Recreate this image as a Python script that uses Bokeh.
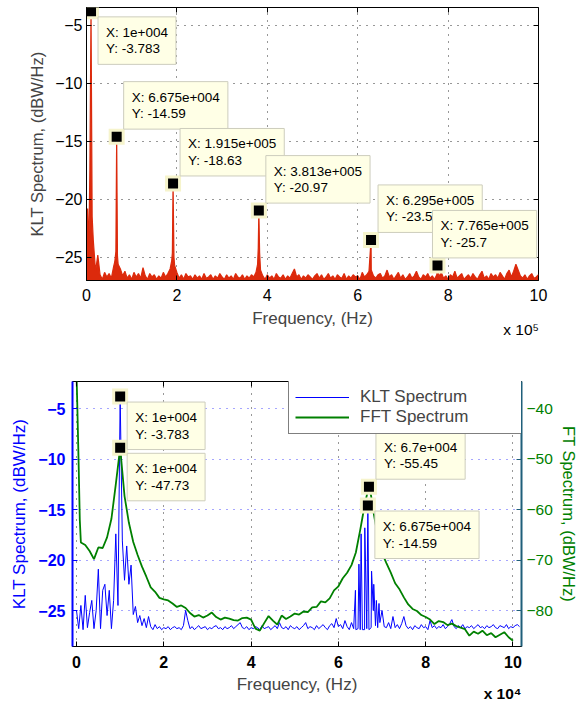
import numpy as np
from bokeh.plotting import figure
from bokeh.models import (Range1d, LinearAxis, Label, Legend, LegendItem, Title,
                          CustomJSTickFormatter)
from bokeh.layouts import column
from bokeh.embed import file_html
from bokeh.resources import INLINE

FONT = "Liberation Sans"
RED = "#dc2a0c"
BLUE = "#0000ff"
GREEN = "#008000"
TEAL = "#1f5f7a"

# ---------------- data: top panel (KLT spectrum, full band) ----------------
top_step_hz = 5000
klt_top_floor = [
    -23.3, -24.5, -3.783, -23.5, -26.2, -24.8, -26.5, -26.9, -26.3, -26.7,
    -26.4, -26.8, -25.8, -24.5, -25.6, -26.0, -26.6, -26.2, -26.8, -26.5,
    -26.9, -26.3, -26.7, -26.4, -26.8, -25.9, -26.6, -26.9, -26.4, -26.7,
    -26.5, -26.9, -26.6, -26.8, -26.3, -26.7, -26.4, -26.0, -24.6, -25.7,
    -26.3, -26.8, -26.5, -26.9, -26.4, -26.7, -26.6, -26.9, -26.5, -26.8,
    -26.6, -26.9, -26.4, -26.8, -26.7, -26.5, -26.9, -26.6, -26.8, -26.4,
    -26.7, -26.9, -26.5, -26.8, -26.6, -26.9, -26.4, -26.7, -26.8, -26.5,
    -26.9, -26.6, -26.8, -26.5, -26.7, -26.3, -24.2, -26.1, -26.6, -26.9,
    -26.5, -26.8, -26.6, -26.9, -26.4, -26.7, -26.8, -26.5, -26.9, -26.6,
    -26.8, -26.4, -26.0, -26.7, -26.5, -26.9, -26.6, -26.8, -26.5, -26.7,
    -26.9, -26.6, -26.4, -26.8, -26.5, -26.9, -26.7, -26.4, -26.8, -26.6,
    -26.9, -26.5, -26.7, -26.8, -26.4, -26.9, -26.6, -26.8, -26.5, -26.7,
    -26.6, -26.9, -26.3, -26.7, -26.5, -26.2, -26.1, -26.6, -26.8, -26.5,
    -26.4, -26.8, -26.6, -26.1, -26.7, -26.5, -26.9, -26.6, -26.3, -26.8,
    -26.5, -26.9, -26.7, -26.4, -26.8, -26.6, -26.2, -26.7, -26.9, -26.5,
    -26.7, -26.4, -26.8, -26.6, -26.9, -26.5, -26.7, -26.3, -26.8, -26.6,
    -26.9, -26.5, -26.7, -26.2, -26.8, -26.6, -26.4, -26.9, -26.7, -26.5,
    -26.8, -26.4, -26.7, -26.9, -26.5, -26.2, -26.8, -26.6, -26.9, -26.4,
    -26.7, -26.5, -26.8, -26.3, -26.6, -26.9, -26.4, -26.1, -26.7, -26.2,
    -25.6, -26.1, -26.6, -26.8, -26.5, -26.9, -26.6, -26.4, -26.8, -26.7,
    -26.5,
]
klt_top_extra_hz = [2500, 7500, 12500, 62500, 66750, 68500, 188500, 191500,
                    193500, 378500, 381300, 383000, 629500, 776500, 947500]
klt_top_extra_db = [-20.8, -17.4, -21.5, -25.4, -14.59, -24.9, -25.3, -18.63,
                    -25.0, -25.6, -20.97, -24.6, -23.5, -25.7, -25.9]

top_marks_hz = [1e4, 6.675e4, 1.915e5, 3.813e5, 6.295e5, 7.765e5]
top_marks_db = [-3.783, -14.59, -18.63, -20.97, -23.5, -25.7]

top_xticks = [0, 2e5, 4e5, 6e5, 8e5, 1e6]
top_yticks = [-25, -20, -15, -10, -5]

# ---------------- data: bottom panel (zoom 0..100 kHz) ----------------
zoom_step_hz = 500
klt_zoom = [
    -25.0, -26.8, -24.5, -26.9, -23.5, -26.7, -25.2, -24.0, -26.8, -25.0,
    -20.9, -26.8, -23.0, -22.4, -25.5, -23.0, -26.8, -24.0, -17.4, -24.5,
    -3.783, -18.1, -22.0, -18.6, -22.4, -20.5, -25.4, -24.6, -26.2, -25.5,
    -26.5, -25.8, -26.7, -25.6, -26.6, -26.9, -26.4, -26.8, -26.6, -26.9,
    -26.7, -26.8, -26.6, -26.9, -26.7, -26.6, -26.8, -26.7, -26.9, -26.5,
    -25.0, -26.0, -26.8, -26.6, -26.9, -26.7, -26.5, -26.8, -26.7, -26.6,
    -26.9, -26.7, -26.8, -26.6, -26.5, -26.8, -26.7, -26.9, -26.6, -26.8,
    -26.7, -26.5, -26.8, -26.6, -26.4, -26.2, -26.7, -26.8, -26.6, -26.9,
    -26.7, -26.8, -26.6, -26.7, -26.9, -26.5, -26.8, -26.7, -26.6, -26.9,
    -26.7, -26.5, -26.8, -26.2, -26.7, -26.8, -26.6, -26.9, -26.5, -26.7,
    -26.8, -26.6, -26.9, -26.7, -26.5, -26.2, -26.8, -26.6, -26.7, -26.9,
    -26.5, -26.8, -26.6, -26.4, -26.7, -26.9, -26.5, -26.3, -26.7, -25.8,
    -26.6, -26.4, -26.8, -26.0, -26.6, -26.9, -26.2, -26.8, -26.9, -26.8,
    -26.9, -26.9, -26.9, -26.8, -26.9, -26.7, -25.0, -26.5, -26.7, -26.2,
    -25.0, -26.6, -26.7, -26.2, -26.8, -25.6, -26.7, -26.4, -26.8, -26.3,
    -25.6, -26.5, -26.8, -26.6, -26.9, -26.5, -26.7, -26.8, -26.4, -26.7,
    -26.6, -26.9, -26.0, -26.7, -26.5, -26.8, -26.6, -26.7, -26.4, -26.8,
    -26.6, -26.3, -25.9, -26.6, -26.8, -26.5, -26.7, -26.4, -26.8, -26.6,
    -26.7, -26.5, -26.8, -26.6, -26.4, -26.7, -26.6, -26.8, -26.5, -26.7,
    -26.6, -26.4, -26.7, -26.8, -26.5, -26.6, -26.7, -26.4, -26.8, -26.6,
    -26.7, -26.5, -26.4, -26.6,
]
klt_zoom_extra_hz = [63900, 64700, 65200, 66050, 66750, 67600, 68100, 68700, 69300]
klt_zoom_extra_db = [-23.0, -20.4, -17.4, -16.8, -14.59, -21.1, -22.4, -24.0, -24.3]

fft_step_hz = 1000
fft_zoom = [
    -33.0, -66.5, -67.0, -68.2, -69.8, -67.5, -67.6, -65.5, -61.8, -55.0,
    -47.73, -57.3, -62.6, -66.4, -69.0, -71.3, -73.3, -75.4, -76.3, -77.5,
    -77.8, -78.0, -78.6, -79.3, -79.0, -79.5, -80.5, -81.2, -80.9, -81.4,
    -81.0, -80.4, -81.3, -81.8, -81.4, -81.6, -81.9, -82.0, -81.5, -81.4,
    -81.8, -83.6, -84.0, -82.5, -81.1, -82.0, -82.8, -81.0, -81.7, -81.2,
    -80.6, -80.8, -80.2, -80.3, -79.4, -79.3, -78.2, -78.4, -77.6, -76.0,
    -75.2, -73.6, -72.5, -71.0, -68.5, -64.0, -59.2, -55.45, -60.3, -65.2,
    -68.6, -70.6, -72.5, -74.6, -75.8, -77.4, -78.8, -79.7, -80.1, -80.9,
    -81.3, -81.8, -82.7, -82.1, -82.3, -82.9, -82.6, -83.1, -83.4, -83.7,
    -85.0, -84.2, -84.6, -84.0, -84.9, -84.5, -85.3, -84.8, -84.3, -85.3,
    -86.0,
]
fft_zoom_extra_hz = [200, 500, 750, 65500, 66500, 67500]
fft_zoom_extra_db = [-40.0, -51.5, -62.0, -61.6, -57.2, -57.3]

klt_marks_hz = [1e4, 6.675e4]
klt_marks_db = [-3.783, -14.59]
fft_marks_hz = [1e4, 6.7e4]
fft_marks_db = [-47.73, -55.45]

bot_xticks = [0, 2e4, 4e4, 6e4, 8e4, 1e5]
bot_left_ticks = [-25, -20, -15, -10, -5]
bot_right_ticks = [-80, -70, -60, -50, -40]

TOP_X = (0, 1e6)
TOP_Y = (-27.0, -3.45)
BOT_X = (-920, 101950)
BOT_YL = (-28.57, -2.29)
BOT_YR = (-87.14, -34.58)


def merged(step, vals, ex_x, ex_y):
    x = np.concatenate([np.arange(len(vals)) * step, np.asarray(ex_x, float)])
    y = np.concatenate([np.asarray(vals, float), np.asarray(ex_y, float)])
    o = np.argsort(x, kind="stable")
    return x[o], y[o]


def matlab_num(v):
    s = "%.4g" % v
    if "e" in s:
        mant, ex = s.split("e")
        s = "%se%s%03d" % (mant, ex[0], int(ex[1:]))
    return s


def style_axis(ax, color="black", size="16px", bold=False):
    ax.major_label_text_font = FONT
    ax.major_label_text_font_size = size
    ax.major_label_text_color = color
    ax.major_label_text_font_style = "bold" if bold else "normal"
    ax.axis_label_text_font = FONT
    ax.axis_label_text_font_style = "normal"
    ax.major_tick_in = 5
    ax.major_tick_out = 0
    ax.minor_tick_line_color = None


def mirror_axis(p, ticks, side, color="black", range_name="default"):
    kw = {"y_range_name": range_name} if side in ("left", "right") else {}
    ax = LinearAxis(ticker=ticks, axis_line_color=None, major_tick_in=5,
                    major_tick_out=0, minor_tick_line_color=None,
                    major_tick_line_color=color, major_label_standoff=0,
                    major_label_text_font_size="0px",
                    formatter=CustomJSTickFormatter(code="return '';"), **kw)
    p.add_layout(ax, side)


def tip(p, x, y, below, range_name="default", dx=7):
    txt = "X: %s\nY: %s" % (matlab_num(x), matlab_num(y))
    lab = Label(x=x, y=y, text=txt, y_range_name=range_name,
                anchor="top_left" if below else "bottom_left",
                x_offset=dx, y_offset=-5.5 if below else 7.5,
                text_font=FONT, text_font_size="13.5px", text_color="black",
                text_line_height=1.1, padding=8,
                background_fill_color="#ffffe6", background_fill_alpha=1.0,
                border_line_color="#cdcdbd", border_line_width=1)
    p.add_layout(lab)


def marks(p, xs, ys, range_name="default"):
    p.scatter(xs, ys, marker="square", size=16, fill_color="#f6f4cc",
              line_color=None, y_range_name=range_name)
    p.scatter(xs, ys, marker="square", size=10, fill_color="black",
              line_color=None, y_range_name=range_name)


# ================= top figure =================
p1 = figure(width=580, height=350, x_range=Range1d(*TOP_X), y_range=Range1d(*TOP_Y),
            output_backend="svg", toolbar_location=None, frame_align=False,
            min_border_left=86, min_border_right=42, min_border_top=7,
            min_border_bottom=70)
p1.background_fill_color = "white"
p1.border_fill_color = "white"
p1.outline_line_color = "black"
p1.outline_line_width = 1

tx, ty = merged(top_step_hz, klt_top_floor, klt_top_extra_hz, klt_top_extra_db)
p1.varea(x=tx, y1=TOP_Y[0] - 1, y2=ty, fill_color=RED)
p1.line(tx, ty, line_color=RED, line_width=1.2)

p1.xaxis.ticker = top_xticks
p1.yaxis.ticker = top_yticks
p1.xaxis.formatter = CustomJSTickFormatter(code="return (tick/1e5).toFixed(0);")
for ax in (p1.xaxis[0], p1.yaxis[0]):
    style_axis(ax)
p1.xaxis.axis_label = "Frequency, (Hz)"
p1.yaxis.axis_label = "KLT Spectrum, (dBW/Hz)"
p1.xaxis.axis_label_text_font_size = "17px"
p1.yaxis.axis_label_text_font_size = "16.5px"
p1.xaxis.major_label_standoff = 8
p1.yaxis.major_label_standoff = 4
p1.xaxis.axis_label_standoff = 5
p1.yaxis.axis_label_standoff = 6
p1.grid.grid_line_color = "#303030"
p1.grid.grid_line_dash = "1 6"
p1.grid.grid_line_width = 1
mirror_axis(p1, top_xticks, "above")
mirror_axis(p1, top_yticks, "right")

marks(p1, top_marks_hz, top_marks_db)
n_top = len(top_marks_hz)
for i, (mx, my) in enumerate(zip(top_marks_hz, top_marks_db)):
    tip(p1, mx, my, below=(i == 0), dx=(-5 if i == n_top - 1 else 7))

# "x 10^5" multiplier: a label-only axis stacked under the main x axis,
# its single label centred so that it ends at the right edge of the frame
mult_pos = TOP_X[1] - 0.0385 * (TOP_X[1] - TOP_X[0])
ax_mult = LinearAxis(ticker=[mult_pos], axis_line_color=None,
                     major_tick_line_color=None, minor_tick_line_color=None,
                     major_tick_in=0, major_tick_out=0, major_label_standoff=-10,
                     major_label_text_font=FONT, major_label_text_font_size="15.5px",
                     major_label_text_color="black",
                     formatter=CustomJSTickFormatter(code="return 'x 10\u2075';"))
p1.add_layout(ax_mult, "below")

# ================= bottom figure =================
p2 = figure(width=580, height=351, x_range=Range1d(*BOT_X), y_range=Range1d(*BOT_YL),
            output_backend="svg", toolbar_location=None, frame_align=False,
            min_border_left=72, min_border_right=59, min_border_top=31,
            min_border_bottom=55)
p2.extra_y_ranges = {"fft": Range1d(*BOT_YR)}
p2.background_fill_color = "white"
p2.border_fill_color = "white"
p2.outline_line_color = "black"
p2.outline_line_width = 1

bx, by = merged(zoom_step_hz, klt_zoom, klt_zoom_extra_hz, klt_zoom_extra_db)
gx, gy = merged(fft_step_hz, fft_zoom, fft_zoom_extra_hz, fft_zoom_extra_db)
r_blue = p2.line(bx, by, line_color=BLUE, line_width=1)
r_green = p2.line(gx, gy, line_color=GREEN, line_width=1.8, y_range_name="fft")

p2.xaxis.ticker = bot_xticks
p2.yaxis.ticker = bot_left_ticks
p2.xaxis.formatter = CustomJSTickFormatter(code="return (tick/1e4).toFixed(0);")
style_axis(p2.xaxis[0], bold=True)
style_axis(p2.yaxis[0], color=BLUE, bold=True)
p2.yaxis.axis_line_color = BLUE
p2.yaxis.axis_line_width = 2
p2.yaxis.major_tick_line_color = BLUE
p2.yaxis.axis_label = "KLT Spectrum, (dBW/Hz)"
p2.yaxis.axis_label_text_color = BLUE
p2.yaxis.axis_label_text_font_size = "17px"
p2.yaxis.major_label_standoff = 7
p2.yaxis.axis_label_standoff = 6
p2.xaxis.axis_label = "Frequency, (Hz)"
p2.xaxis.axis_label_text_font_size = "17px"
p2.xaxis.major_label_standoff = 9
p2.xaxis.axis_label_standoff = 4

ax_r = LinearAxis(y_range_name="fft", ticker=bot_right_ticks,
                  axis_label="FT Spectrum, (dBW/Hz)")
style_axis(ax_r, color=GREEN, size="15.5px")
ax_r.axis_line_color = TEAL
ax_r.axis_line_width = 2
ax_r.major_tick_line_color = TEAL
ax_r.axis_label_text_color = GREEN
ax_r.axis_label_text_font_size = "16.5px"
ax_r.major_label_standoff = 5
ax_r.axis_label_standoff = 4
p2.add_layout(ax_r, "right")
mirror_axis(p2, bot_xticks, "above")

p2.xgrid.grid_line_color = "#303030"
p2.xgrid.grid_line_dash = "1 6"
p2.ygrid.grid_line_color = "#4d4dff"
p2.ygrid.grid_line_dash = "1 6"

marks(p2, klt_marks_hz, klt_marks_db)
marks(p2, fft_marks_hz, fft_marks_db, "fft")
tip(p2, klt_marks_hz[0], klt_marks_db[0], below=True)
tip(p2, fft_marks_hz[0], fft_marks_db[0], below=True, range_name="fft")
tip(p2, fft_marks_hz[1], fft_marks_db[1], below=False, range_name="fft")
tip(p2, klt_marks_hz[1], klt_marks_db[1], below=True)

legend = Legend(items=[LegendItem(label="KLT Spectrum", renderers=[r_blue]),
                       LegendItem(label="FFT Spectrum", renderers=[r_green])],
                location=(216, 212), margin=0, padding=6, spacing=0,
                glyph_width=54, glyph_height=20, label_standoff=11,
                label_width=169, label_height=20,
                label_text_font=FONT, label_text_font_size="17px",
                border_line_color="black", border_line_width=1.3,
                background_fill_color="white", background_fill_alpha=1.0)
p2.add_layout(legend)

p2.add_layout(Title(text="x 10\u2074", align="right", vertical_align="top",
                    offset=0, standoff=-23, text_font=FONT,
                    text_font_size="15.5px", text_font_style="bold",
                    text_color="black"), "below")

layout = column(p1, p2, spacing=0)

open("out.html", "w").write(file_html(layout, INLINE))
